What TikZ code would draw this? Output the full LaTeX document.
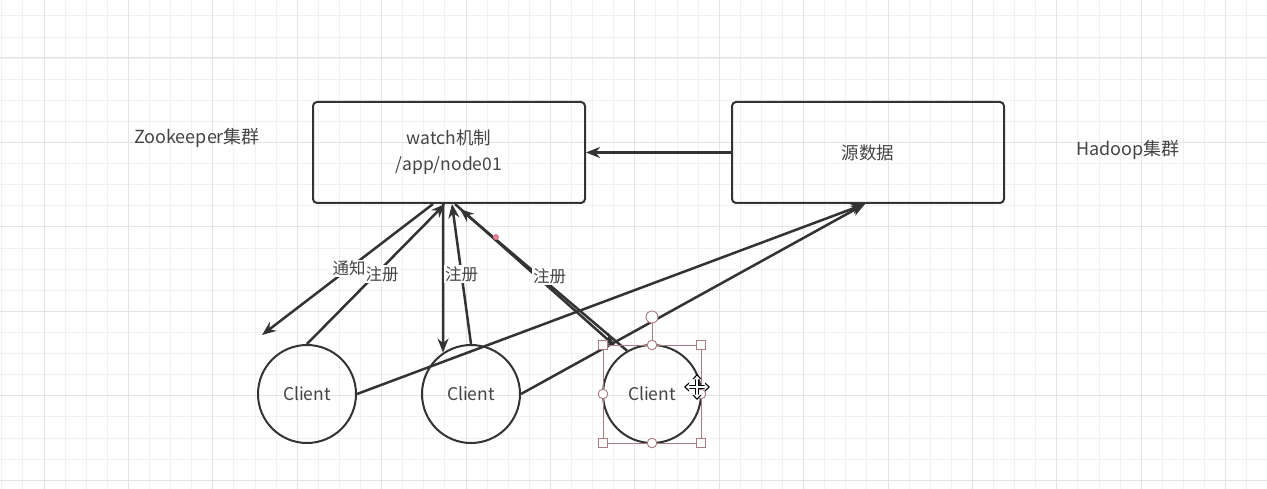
\documentclass[tikz,border=0pt]{standalone}
\usepackage{fontspec}
\setmainfont{Noto Sans CJK SC}
\usetikzlibrary{arrows.meta}
\definecolor{gridminor}{HTML}{F1F1F1}
\definecolor{gridmajor}{HTML}{E4E4E4}
\definecolor{ink}{HTML}{333333}
\definecolor{txt}{HTML}{444444}
\definecolor{sel}{HTML}{A87C80}
\definecolor{pinkdot}{HTML}{E58090}
\begin{document}
\begin{tikzpicture}[x=1pt,y=-1pt,
  box/.style={draw=ink, line width=2pt, rounded corners=4pt, minimum width=272pt, minimum height=101pt, inner sep=0pt, align=center, text=txt, font=\fontsize{17.5}{26}\selectfont},
  client/.style={circle, draw=ink, line width=2pt, minimum size=98pt, inner sep=0pt, text=txt, font=\fontsize{17.5}{20}\selectfont},
  conn/.style={draw=ink, line width=2.5pt, -{Stealth[length=14pt,width=11pt]}},
  lbl/.style={fill=white, inner sep=1pt, text=txt, font=\fontsize{16.5}{18}\selectfont},
  title/.style={text=txt, font=\fontsize{18}{20}\selectfont},
  handle/.style={draw=sel, fill=white, line width=0.9pt}]
\useasboundingbox (0,0) rectangle (1267,489);
\fill[white] (0,0) rectangle (1267,489);
% grid
\foreach \i in {-2,...,58} \draw[gridminor, line width=1pt] ({44+21.1*\i},0) -- ({44+21.1*\i},489);
\foreach \j in {0,...,22} \draw[gridminor, line width=1pt] (0,{16+21.1*\j}) -- (1267,{16+21.1*\j});
\foreach \i in {0,...,14} \draw[gridmajor, line width=1pt] ({44+84.4*\i},0) -- ({44+84.4*\i},489);
\foreach \j in {0,...,5} \draw[gridmajor, line width=1pt] (0,{58+84.4*\j}) -- (1267,{58+84.4*\j});

% nodes
\node[box] (zk) at (449,152.5) {watch机制\\/app/node01};
\node[box] (src) at (868,152.5) {源数据};
\node[title] (zkt) at (197,138) {Zookeeper集群};
\node[title] (hdt) at (1128,150) {Hadoop集群};
\node[client] (c1) at (307,394) {Client};
\node[client] (c2) at (471,394) {Client};
\node[client] (c3) at (652,394) {Client};
\coordinate (n1) at (262,335);

% connectors
\draw[conn] (src.west) -- (zk.east);
\draw[conn] (c1.east) -- ([xshift=-3pt]src.south);
\draw[conn] (c2.east) -- ([xshift=-3pt]src.south);
\draw[conn] (c1.north) -- node[lbl, pos=0.5, xshift=6pt] {注册} ([xshift=-4pt]zk.south);
\draw[conn] ([xshift=-16pt]zk.south) -- node[lbl, pos=0.49] {通知} (n1);
\draw[conn] ([xshift=-6pt]zk.south) -- (c2.124);
\draw[conn] (c2.north) -- node[lbl, pos=0.5] {注册} ([xshift=3pt]zk.south);
\draw[conn] ([xshift=6pt]zk.south) -- ([xshift=-37pt,yshift=-2pt]c3.north);
\draw[conn] (c3.120) -- node[lbl, pos=0.5, xshift=6pt, yshift=4pt] {注册} ([xshift=11pt,yshift=-5pt]zk.south);

% pink dot
\fill[pinkdot] (496,237) circle (3pt);

% selection handles around third client
\draw[sel, line width=0.9pt] (603,345) rectangle (701,443);
\draw[sel, line width=0.9pt] (652,323) -- (652,345);
\draw[handle] (652,317) circle (6pt);
\foreach \p in {(603,345),(701,345),(603,443),(701,443)} \draw[handle] \p ++(-4.5,-4.5) rectangle ++(9,9);
\foreach \p in {(652,345),(603,394),(701,394),(652,443)} \draw[handle] \p circle (4.8pt);

% move cursor
\draw[black, line width=3.6pt, {Triangle[length=5pt,width=9pt]}-{Triangle[length=5pt,width=9pt]}] (684,387) -- (710,387);
\draw[black, line width=3.6pt, {Triangle[length=5pt,width=9pt]}-{Triangle[length=5pt,width=9pt]}] (697,374) -- (697,400);
\draw[white, line width=1.6pt, {Triangle[length=3.5pt,width=6pt]}-{Triangle[length=3.5pt,width=6pt]}] (685.8,387) -- (708.2,387);
\draw[white, line width=1.6pt, {Triangle[length=3.5pt,width=6pt]}-{Triangle[length=3.5pt,width=6pt]}] (697,375.8) -- (697,398.2);
\end{tikzpicture}
\end{document}
